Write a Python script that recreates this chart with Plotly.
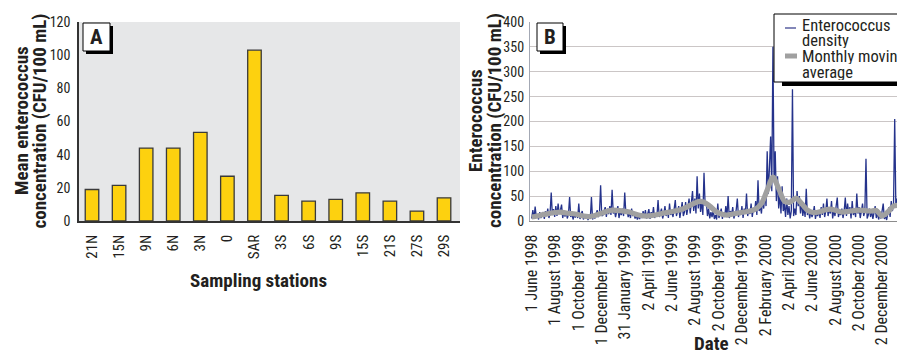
import pandas as pd
import plotly.graph_objects as go

W, H = 897, 352
FONT = "Roboto Condensed, Liberation Sans Narrow, Arial Narrow, Liberation Sans, sans-serif"
INK = "#231f20"

# ---- Panel A: mean concentration by sampling station ----
stations = ["21N", "15N", "9N", "6N", "3N", "0", "SAR",
            "3S", "6S", "9S", "15S", "21S", "27S", "29S"]
mean_conc = [19, 21.5, 44, 44, 53.5, 27, 103, 15.5, 12, 13, 17, 12, 6, 14]

# ---- Panel B: enterococcus density, one value every 3 days from 1 June 1998 ----
density_start = "1998-06-01"
density_step = "3D"
density = [
    5, 22, 4, 29, 8, 14, 3, 18, 6, 12,
    18, 4, 20, 10, 25, 6, 15, 57, 12, 24,
    8, 30, 10, 35, 14, 22, 33, 6, 18, 9,
    20, 5, 14, 48, 8, 16, 3, 12, 7, 18,
    6, 35, 4, 12, 20, 3, 10, 5, 14, 2,
    8, 4, 48, 3, 12, 5, 15, 22, 8, 16,
    72, 10, 12, 20, 28, 8, 25, 14, 30, 12,
    63, 15, 22, 8, 18, 30, 6, 20, 12, 25,
    10, 57, 14, 22, 8, 18, 6, 25, 10, 15,
    5, 12, 3, 10, 4, 14, 6, 20, 8, 22,
    5, 15, 24, 4, 18, 8, 28, 6, 15, 10,
    42, 8, 18, 25, 5, 14, 30, 10, 22, 6,
    35, 12, 20, 8, 24, 42, 10, 18, 30, 6,
    22, 38, 10, 18, 38, 12, 28, 45, 15, 35,
    60, 20, 45, 15, 90, 25, 55, 18, 40, 12,
    97, 30, 40, 10, 25, 5, 18, 8, 22, 4,
    12, 3, 35, 6, 15, 25, 4, 18, 8, 30,
    10, 50, 6, 20, 12, 28, 5, 15, 22, 45,
    8, 20, 12, 30, 6, 25, 15, 55, 10, 22,
    14, 35, 8, 25, 18, 40, 12, 82, 20, 30,
    15, 45, 25, 60, 30, 140, 55, 110, 170, 60,
    350, 80, 140, 40, 90, 25, 55, 15, 70, 20,
    35, 8, 45, 12, 30, 5, 20, 265, 10, 25,
    12, 60, 30, 50, 15, 40, 10, 28, 8, 65,
    12, 25, 5, 20, 8, 15, 30, 4, 18, 10,
    22, 6, 28, 12, 35, 8, 20, 45, 10, 25,
    15, 40, 5, 22, 10, 30, 47, 8, 18, 12,
    25, 6, 20, 47, 10, 35, 15, 28, 5, 40,
    12, 22, 8, 55, 15, 28, 6, 20, 35, 10,
    18, 125, 5, 12, 25, 8, 20, 4, 15, 30,
    6, 18, 3, 12, 5, 22, 35, 4, 10, 2,
    15, 28, 8, 40, 20, 35, 205, 30, 45, 20,
]

# ---- Panel B: monthly moving average, one value every 15 days ----
avg_step = "15D"
monthly_avg = [
    8, 10, 13, 15, 17, 18, 16, 15, 13, 10,
    9, 11, 15, 19, 22, 21, 20, 18, 14, 11,
    10, 11, 13, 16, 18, 20, 23, 28, 34, 39,
    38, 30, 20, 14, 12, 14, 16, 18, 20, 24,
    35, 62, 88, 65, 40, 38, 46, 35, 22, 17,
    18, 22, 24, 21, 18, 19, 21, 22, 21, 20,
    21, 10, 18, 30, 32,
]

# ---- Panel B: dated tick marks on the time axis ----
date_ticks = [
    "1998-06-01", "1998-08-01", "1998-10-01", "1998-12-01",
    "1999-01-31", "1999-04-02", "1999-06-02", "1999-08-02",
    "1999-10-02", "1999-12-02", "2000-02-02", "2000-04-02",
    "2000-06-02", "2000-08-02", "2000-10-02", "2000-12-02",
]

density_dates = pd.date_range(density_start, periods=len(density), freq=density_step)
avg_dates = pd.date_range(density_start, periods=len(monthly_avg), freq=avg_step)


def fx(px):
    return px / W


def fy(py):
    return 1 - py / H


fig = go.Figure()

fig.add_trace(go.Bar(
    x=stations, y=mean_conc, xaxis="x", yaxis="y",
    marker=dict(color="#fdd10f", line=dict(color="#3a3a3a", width=1.3)),
    width=0.5, showlegend=False,
))

fig.add_trace(go.Scatter(
    x=density_dates, y=density, xaxis="x2", yaxis="y2", mode="lines",
    line=dict(color="#25338c", width=1.3), showlegend=False,
))
fig.add_trace(go.Scatter(
    x=avg_dates, y=monthly_avg, xaxis="x2", yaxis="y2", mode="lines",
    line=dict(color="#a0a0a0", width=5.2, shape="spline", smoothing=0.8),
    showlegend=False,
))

top, bottom = fy(221), fy(22)

fig.update_layout(
    width=W, height=H,
    margin=dict(l=0, r=0, t=0, b=0, autoexpand=False),
    paper_bgcolor="white", plot_bgcolor="rgba(0,0,0,0)",
    font=dict(family=FONT, color=INK),
    bargap=0.5,
    xaxis=dict(
        domain=[fx(79), fx(460)], type="category", range=[-0.48, 13.59],
        tickangle=-90, tickfont=dict(size=15, color=INK), ticks="",
        showline=True, linecolor="#333333", linewidth=1.5, showgrid=False,
        anchor="y", ticklabelstandoff=6, automargin=False,
    ),
    yaxis=dict(
        domain=[top, bottom], range=[0, 120], dtick=20,
        tickfont=dict(size=14, color=INK), ticks="",
        showline=True, linecolor="#333333", linewidth=1.5,
        showgrid=False, zeroline=False, anchor="x", ticklabelstandoff=4,
        automargin=False,
    ),
    xaxis2=dict(
        domain=[fx(530), 1.0], type="date",
        range=["1998-05-27 14:00", "2001-01-10"],
        tickmode="array", tickvals=date_ticks, tickformat="%-d %B %Y",
        tickangle=-90, tickfont=dict(size=16, color=INK), ticks="",
        showline=True, linecolor="#8c8c8c", linewidth=1.2, showgrid=False,
        anchor="y2", ticklabelstandoff=6, automargin=False,
    ),
    yaxis2=dict(
        domain=[top, bottom], range=[0, 400], dtick=50,
        tickfont=dict(size=14, color=INK), ticks="",
        showline=True, linecolor="#a3a8b4", linewidth=1.2,
        showgrid=True, gridcolor="#cbc6c6", gridwidth=1,
        zeroline=False, anchor="x2", ticklabelstandoff=2, automargin=False,
    ),
)

shapes = [
    # grey backdrop of panel A
    dict(type="rect", xref="x domain", yref="y domain", x0=0, x1=1, y0=0, y1=1,
         fillcolor="#e6e7e8", line=dict(width=0), layer="below"),
]


def label_box(x0, y0, x1, y1):
    return [
        dict(type="rect", xref="paper", yref="paper",
             x0=fx(x0 + 3), x1=fx(x1 + 3), y0=fy(y1 + 3), y1=fy(y0 + 3),
             fillcolor="black", line=dict(width=0), layer="above"),
        dict(type="rect", xref="paper", yref="paper",
             x0=fx(x0), x1=fx(x1), y0=fy(y1), y1=fy(y0),
             fillcolor="white", line=dict(color="black", width=1), layer="above"),
    ]


shapes += label_box(83, 23, 110, 51)
shapes += label_box(537, 23, 563, 51)

# legend frame for panel B
shapes += [
    dict(type="rect", xref="paper", yref="paper",
         x0=fx(782), x1=fx(1000), y0=fy(86), y1=fy(20),
         fillcolor="black", line=dict(width=0), layer="above"),
    dict(type="rect", xref="paper", yref="paper",
         x0=fx(774), x1=fx(995), y0=fy(82), y1=fy(14),
         fillcolor="white", line=dict(color="black", width=1), layer="above"),
    dict(type="line", xref="paper", yref="paper",
         x0=fx(785), x1=fx(796), y0=fy(28), y1=fy(28),
         line=dict(color="#5a5fa0", width=1.5), layer="above"),
    dict(type="line", xref="paper", yref="paper",
         x0=fx(785), x1=fx(797), y0=fy(56), y1=fy(56),
         line=dict(color="#a0a0a0", width=5), layer="above"),
]
fig.update_layout(shapes=shapes)

annotations = []


def note(text, px, py, size, bold=False, angle=0, xanchor="center", height=None):
    annotations.append(dict(
        text=f"<b>{text}</b>" if bold else text,
        xref="paper", yref="paper", x=fx(px), y=fy(py),
        xanchor=xanchor, yanchor="middle", showarrow=False, textangle=angle,
        font=dict(family=FONT, size=size, color=INK), height=height,
        borderpad=0,
    ))


note("A", 96.5, 37, 21, bold=True)
note("B", 550, 37, 21, bold=True)
note("Mean enterococcus", 21, 121, 19, bold=True, angle=-90)
note("concentration (CFU/100 mL)", 38.5, 121, 19, bold=True, angle=-90)
note("Enterococcus", 475, 121, 19, bold=True, angle=-90)
note("concentration (CFU/100 mL)", 494, 121, 19, bold=True, angle=-90)
note("Sampling stations", 258, 280, 19, bold=True)
note("Date", 711, 343, 19, bold=True)
# legend entries: tightly stacked two-line labels
note("Enterococcus", 801, 25, 16.5, xanchor="left", height=15)
note("density", 801, 41, 16.5, xanchor="left", height=15)
note("Monthly moving", 801, 57, 16.5, xanchor="left", height=15)
note("average", 801, 72.5, 16.5, xanchor="left", height=15)
fig.update_layout(annotations=annotations)

fig.write_html("out.html")
